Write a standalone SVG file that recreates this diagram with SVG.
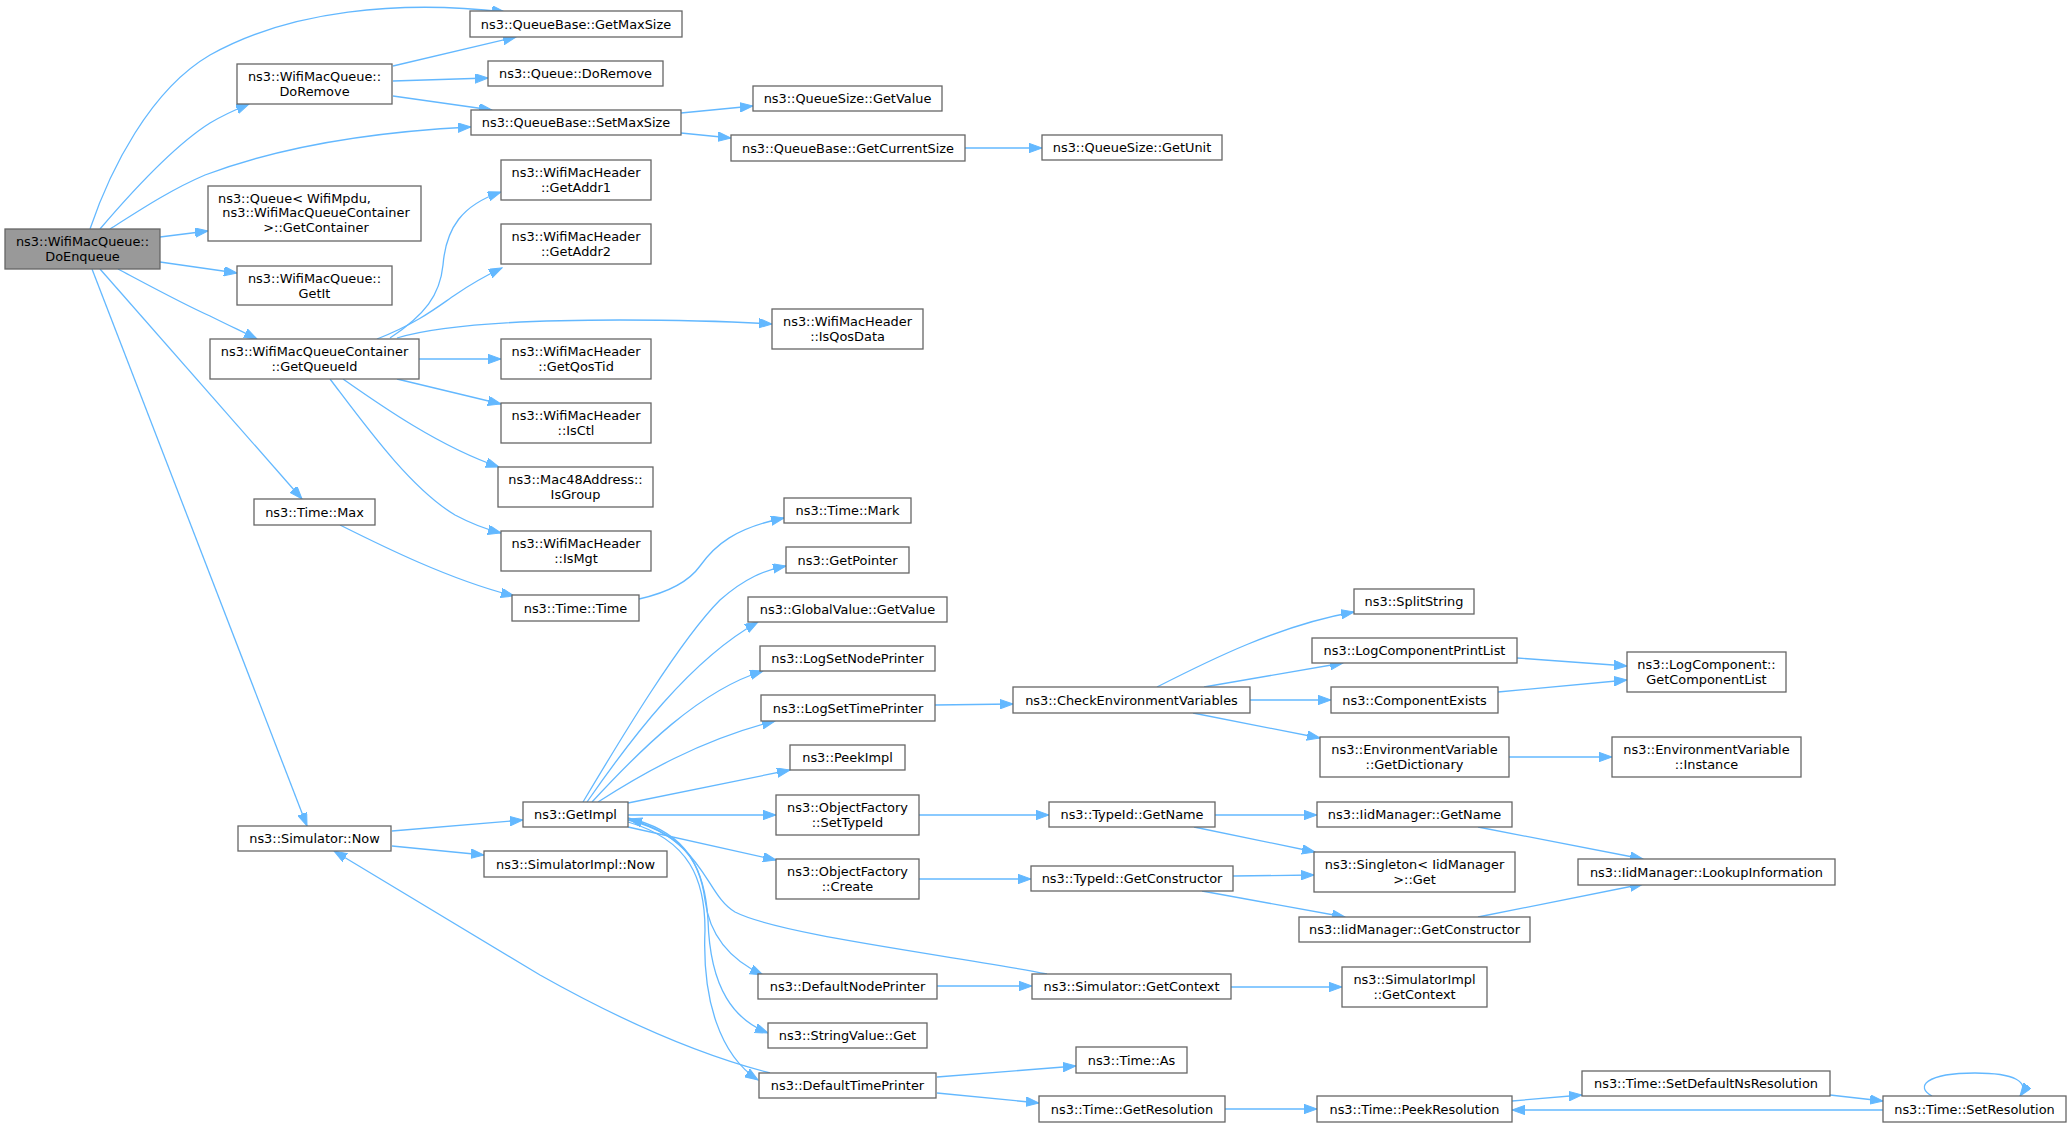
<svg xmlns="http://www.w3.org/2000/svg" width="2072" height="1127" viewBox="0 0 2072 1127">
<defs>
<style>
.n rect{fill:#ffffff;stroke:#666666;stroke-width:1.3}
.n.root rect{fill:#999999}
.n text{font-family:"DejaVu Sans","Liberation Sans",sans-serif;font-size:12.9px;fill:#000000;text-anchor:middle}
.e path{fill:none;stroke:#63b8ff;stroke-width:1.3;marker-end:url(#ah)}
</style>
<marker id="ah" markerWidth="14" markerHeight="10" refX="13" refY="4.7" orient="auto" markerUnits="userSpaceOnUse"><path d="M0,0 L13,4.7 L0,9.4 z" fill="#63b8ff" stroke="#63b8ff" stroke-width="1"/></marker>
</defs>
<rect width="2072" height="1127" fill="#ffffff"/>
<g id="edges" class="e">
<path d="M90,229 C110,170 150,90 210,55 C290,10 400,0 505,12"/>
<path d="M100,229 C135,188 175,145 210,123 C225,114 237,109 249,104"/>
<path d="M110,229 C140,210 170,190 205,175 C290,143 390,131 471,127"/>
<path d="M160,237 L208,231"/>
<path d="M160,262 L237,273"/>
<path d="M118,269 C150,286 185,305 210,316 C228,325 243,332 257,339"/>
<path d="M100,269 L302,499"/>
<path d="M92,269 L307,826"/>
<path d="M393,66 L516,37"/>
<path d="M393,81 L488,78"/>
<path d="M393,96 L492,110"/>
<path d="M681,113 L753,106"/>
<path d="M681,133 L731,138"/>
<path d="M965,148 L1042,148"/>
<path d="M390,338 C425,315 440,295 443,265 C446,228 462,205 501,192"/>
<path d="M377,339 C420,322 440,305 455,295 C468,286 485,276 502,268"/>
<path d="M397,338 C440,325 520,320 620,320 C690,320 740,322 772,324"/>
<path d="M419,359 L501,359"/>
<path d="M397,379 L501,404"/>
<path d="M343,379 C380,405 440,447 499,467"/>
<path d="M330,379 C365,425 410,488 455,515 C470,523 485,529 501,533"/>
<path d="M340,525 C380,545 450,580 514,596"/>
<path d="M639,599 C670,592 690,580 700,566 C715,545 735,528 784,518"/>
<path d="M583,802 C620,740 680,640 720,600 C745,578 765,570 786,566"/>
<path d="M587,802 C630,740 690,660 758,622"/>
<path d="M592,802 C640,750 700,690 763,671"/>
<path d="M598,802 C640,775 700,740 775,721"/>
<path d="M628,803 L790,770"/>
<path d="M628,815 L776,815"/>
<path d="M628,827 L776,860"/>
<path d="M628,818 C680,830 700,860 705,900 C710,940 735,962 763,975"/>
<path d="M628,820 C690,835 705,870 708,920 C710,990 735,1020 768,1033"/>
<path d="M628,822 C690,840 705,880 705,930 C702,1000 720,1055 758,1080"/>
<path d="M1047,974 C950,955 780,935 735,912 C705,895 705,840 629,819"/>
<path d="M392,831 L523,820"/>
<path d="M392,846 L484,855"/>
<path d="M770,1073 C700,1055 620,1020 540,975 L334,851"/>
<path d="M935,705 L1013,704"/>
<path d="M1157,687 C1210,660 1280,625 1354,612"/>
<path d="M1204,687 L1343,663"/>
<path d="M1250,700 L1331,700"/>
<path d="M1193,713 L1320,738"/>
<path d="M1517,658 L1627,666"/>
<path d="M1498,692 L1627,680"/>
<path d="M1509,757 L1612,757"/>
<path d="M919,815 L1049,815"/>
<path d="M919,879 L1031,879"/>
<path d="M1215,815 L1317,815"/>
<path d="M1194,827 L1315,852"/>
<path d="M1233,876 L1314,875"/>
<path d="M1202,891 L1345,917"/>
<path d="M1478,827 L1643,859"/>
<path d="M1478,917 L1643,884"/>
<path d="M937,986 L1032,986"/>
<path d="M1231,987 L1342,987"/>
<path d="M937,1077 L1076,1066"/>
<path d="M937,1093 L1039,1103"/>
<path d="M1225,1109 L1317,1109"/>
<path d="M1512,1101 L1582,1095"/>
<path d="M1830,1095 L1883,1101"/>
<path d="M1883,1110 L1512,1110"/>
<path d="M1932,1096 C1915,1087 1925,1073 1975,1073 C2015,1073 2030,1082 2020,1096"/>
</g>
<g id="n_doenqueue" class="n root"><rect x="5" y="229" width="155" height="40"/><text x="82.5" y="245.5">ns3::WifiMacQueue::</text><text x="82.5" y="260.5">DoEnqueue</text></g>
<g id="n_doremove" class="n"><rect x="237" y="64" width="155" height="40"/><text x="314.5" y="80.5">ns3::WifiMacQueue::</text><text x="314.5" y="95.5">DoRemove</text></g>
<g id="n_getcontainer" class="n"><rect x="208" y="186" width="213" height="55"/><text x="294.5" y="202.5">ns3::Queue&lt; WifiMpdu,</text><text x="316" y="217">ns3::WifiMacQueueContainer</text><text x="316" y="231.5">&gt;::GetContainer</text></g>
<g id="n_getit" class="n"><rect x="237" y="266" width="155" height="39"/><text x="314.5" y="282.5">ns3::WifiMacQueue::</text><text x="314.5" y="297.5">GetIt</text></g>
<g id="n_getqueueid" class="n"><rect x="210" y="339" width="209" height="40"/><text x="314.5" y="355.5">ns3::WifiMacQueueContainer</text><text x="314.5" y="370.5">::GetQueueId</text></g>
<g id="n_timemax" class="n"><rect x="254" y="499" width="121" height="26"/><text x="314.5" y="516.5">ns3::Time::Max</text></g>
<g id="n_simnow" class="n"><rect x="238" y="826" width="153" height="25"/><text x="314.5" y="843">ns3::Simulator::Now</text></g>
<g id="n_getmaxsize" class="n"><rect x="470" y="11" width="212" height="26"/><text x="576" y="28.5">ns3::QueueBase::GetMaxSize</text></g>
<g id="n_qdoremove" class="n"><rect x="488" y="61" width="175" height="25"/><text x="575.5" y="78">ns3::Queue::DoRemove</text></g>
<g id="n_setmaxsize" class="n"><rect x="471" y="110" width="210" height="25"/><text x="576" y="127">ns3::QueueBase::SetMaxSize</text></g>
<g id="n_getaddr1" class="n"><rect x="501" y="160" width="150" height="40"/><text x="576" y="176.5">ns3::WifiMacHeader</text><text x="576" y="191.5">::GetAddr1</text></g>
<g id="n_getaddr2" class="n"><rect x="501" y="224" width="150" height="40"/><text x="576" y="240.5">ns3::WifiMacHeader</text><text x="576" y="255.5">::GetAddr2</text></g>
<g id="n_getqostid" class="n"><rect x="501" y="339" width="150" height="40"/><text x="576" y="355.5">ns3::WifiMacHeader</text><text x="576" y="370.5">::GetQosTid</text></g>
<g id="n_isctl" class="n"><rect x="501" y="403" width="150" height="40"/><text x="576" y="419.5">ns3::WifiMacHeader</text><text x="576" y="434.5">::IsCtl</text></g>
<g id="n_isgroup" class="n"><rect x="498" y="467" width="155" height="40"/><text x="575.5" y="483.5">ns3::Mac48Address::</text><text x="575.5" y="498.5">IsGroup</text></g>
<g id="n_ismgt" class="n"><rect x="501" y="531" width="150" height="40"/><text x="576" y="547.5">ns3::WifiMacHeader</text><text x="576" y="562.5">::IsMgt</text></g>
<g id="n_timetime" class="n"><rect x="512" y="595" width="127" height="26"/><text x="575.5" y="612.5">ns3::Time::Time</text></g>
<g id="n_getimpl" class="n"><rect x="523" y="802" width="105" height="25"/><text x="575.5" y="819">ns3::GetImpl</text></g>
<g id="n_simimplnow" class="n"><rect x="484" y="851" width="183" height="26"/><text x="575.5" y="868.5">ns3::SimulatorImpl::Now</text></g>
<g id="n_getvalue" class="n"><rect x="753" y="86" width="189" height="25"/><text x="847.5" y="103">ns3::QueueSize::GetValue</text></g>
<g id="n_getcurrentsize" class="n"><rect x="731" y="135" width="234" height="26"/><text x="848" y="152.5">ns3::QueueBase::GetCurrentSize</text></g>
<g id="n_isqosdata" class="n"><rect x="772" y="309" width="151" height="40"/><text x="847.5" y="325.5">ns3::WifiMacHeader</text><text x="847.5" y="340.5">::IsQosData</text></g>
<g id="n_timemark" class="n"><rect x="784" y="498" width="127" height="25"/><text x="847.5" y="515">ns3::Time::Mark</text></g>
<g id="n_getpointer" class="n"><rect x="786" y="547" width="123" height="26"/><text x="847.5" y="564.5">ns3::GetPointer</text></g>
<g id="n_globalgetvalue" class="n"><rect x="748" y="597" width="199" height="25"/><text x="847.5" y="614">ns3::GlobalValue::GetValue</text></g>
<g id="n_logsetnodeprinter" class="n"><rect x="760" y="646" width="175" height="25"/><text x="847.5" y="663">ns3::LogSetNodePrinter</text></g>
<g id="n_logsettimeprinter" class="n"><rect x="761" y="695" width="174" height="26"/><text x="848" y="712.5">ns3::LogSetTimePrinter</text></g>
<g id="n_peekimpl" class="n"><rect x="790" y="745" width="115" height="25"/><text x="847.5" y="762">ns3::PeekImpl</text></g>
<g id="n_ofsettypeid" class="n"><rect x="776" y="795" width="143" height="40"/><text x="847.5" y="811.5">ns3::ObjectFactory</text><text x="847.5" y="826.5">::SetTypeId</text></g>
<g id="n_ofcreate" class="n"><rect x="776" y="859" width="143" height="40"/><text x="847.5" y="875.5">ns3::ObjectFactory</text><text x="847.5" y="890.5">::Create</text></g>
<g id="n_defaultnodeprinter" class="n"><rect x="758" y="974" width="179" height="25"/><text x="847.5" y="991">ns3::DefaultNodePrinter</text></g>
<g id="n_stringvalueget" class="n"><rect x="768" y="1023" width="159" height="25"/><text x="847.5" y="1040">ns3::StringValue::Get</text></g>
<g id="n_defaulttimeprinter" class="n"><rect x="759" y="1073" width="177" height="25"/><text x="847.5" y="1090">ns3::DefaultTimePrinter</text></g>
<g id="n_getunit" class="n"><rect x="1042" y="135" width="180" height="25"/><text x="1132" y="152">ns3::QueueSize::GetUnit</text></g>
<g id="n_checkenv" class="n"><rect x="1013" y="687" width="237" height="26"/><text x="1131.5" y="704.5">ns3::CheckEnvironmentVariables</text></g>
<g id="n_tidgetname" class="n"><rect x="1049" y="802" width="166" height="25"/><text x="1132" y="819">ns3::TypeId::GetName</text></g>
<g id="n_tidgetctor" class="n"><rect x="1031" y="866" width="202" height="25"/><text x="1132" y="883">ns3::TypeId::GetConstructor</text></g>
<g id="n_simgetcontext" class="n"><rect x="1032" y="974" width="199" height="25"/><text x="1131.5" y="991">ns3::Simulator::GetContext</text></g>
<g id="n_timeas" class="n"><rect x="1076" y="1047" width="111" height="26"/><text x="1131.5" y="1064.5">ns3::Time::As</text></g>
<g id="n_getresolution" class="n"><rect x="1039" y="1096" width="186" height="26"/><text x="1132" y="1113.5">ns3::Time::GetResolution</text></g>
<g id="n_splitstring" class="n"><rect x="1354" y="589" width="120" height="25"/><text x="1414" y="606">ns3::SplitString</text></g>
<g id="n_logcompprintlist" class="n"><rect x="1312" y="638" width="205" height="25"/><text x="1414.5" y="655">ns3::LogComponentPrintList</text></g>
<g id="n_componentexists" class="n"><rect x="1331" y="687" width="167" height="26"/><text x="1414.5" y="704.5">ns3::ComponentExists</text></g>
<g id="n_getdictionary" class="n"><rect x="1320" y="737" width="189" height="40"/><text x="1414.5" y="753.5">ns3::EnvironmentVariable</text><text x="1414.5" y="768.5">::GetDictionary</text></g>
<g id="n_iidgetname" class="n"><rect x="1317" y="802" width="195" height="25"/><text x="1414.5" y="819">ns3::IidManager::GetName</text></g>
<g id="n_singletonget" class="n"><rect x="1314" y="852" width="201" height="40"/><text x="1414.5" y="868.5">ns3::Singleton&lt; IidManager</text><text x="1414.5" y="883.5">&gt;::Get</text></g>
<g id="n_iidgetctor" class="n"><rect x="1299" y="917" width="231" height="25"/><text x="1414.5" y="934">ns3::IidManager::GetConstructor</text></g>
<g id="n_simimplcontext" class="n"><rect x="1342" y="967" width="145" height="40"/><text x="1414.5" y="983.5">ns3::SimulatorImpl</text><text x="1414.5" y="998.5">::GetContext</text></g>
<g id="n_peekresolution" class="n"><rect x="1317" y="1096" width="195" height="26"/><text x="1414.5" y="1113.5">ns3::Time::PeekResolution</text></g>
<g id="n_getcomponentlist" class="n"><rect x="1627" y="652" width="159" height="40"/><text x="1706.5" y="668.5">ns3::LogComponent::</text><text x="1706.5" y="683.5">GetComponentList</text></g>
<g id="n_envinstance" class="n"><rect x="1612" y="737" width="189" height="40"/><text x="1706.5" y="753.5">ns3::EnvironmentVariable</text><text x="1706.5" y="768.5">::Instance</text></g>
<g id="n_lookupinfo" class="n"><rect x="1578" y="859" width="257" height="26"/><text x="1706.5" y="876.5">ns3::IidManager::LookupInformation</text></g>
<g id="n_setdefaultnsres" class="n"><rect x="1582" y="1071" width="248" height="25"/><text x="1706" y="1088">ns3::Time::SetDefaultNsResolution</text></g>
<g id="n_setresolution" class="n"><rect x="1883" y="1096" width="183" height="26"/><text x="1974.5" y="1113.5">ns3::Time::SetResolution</text></g>
</svg>
